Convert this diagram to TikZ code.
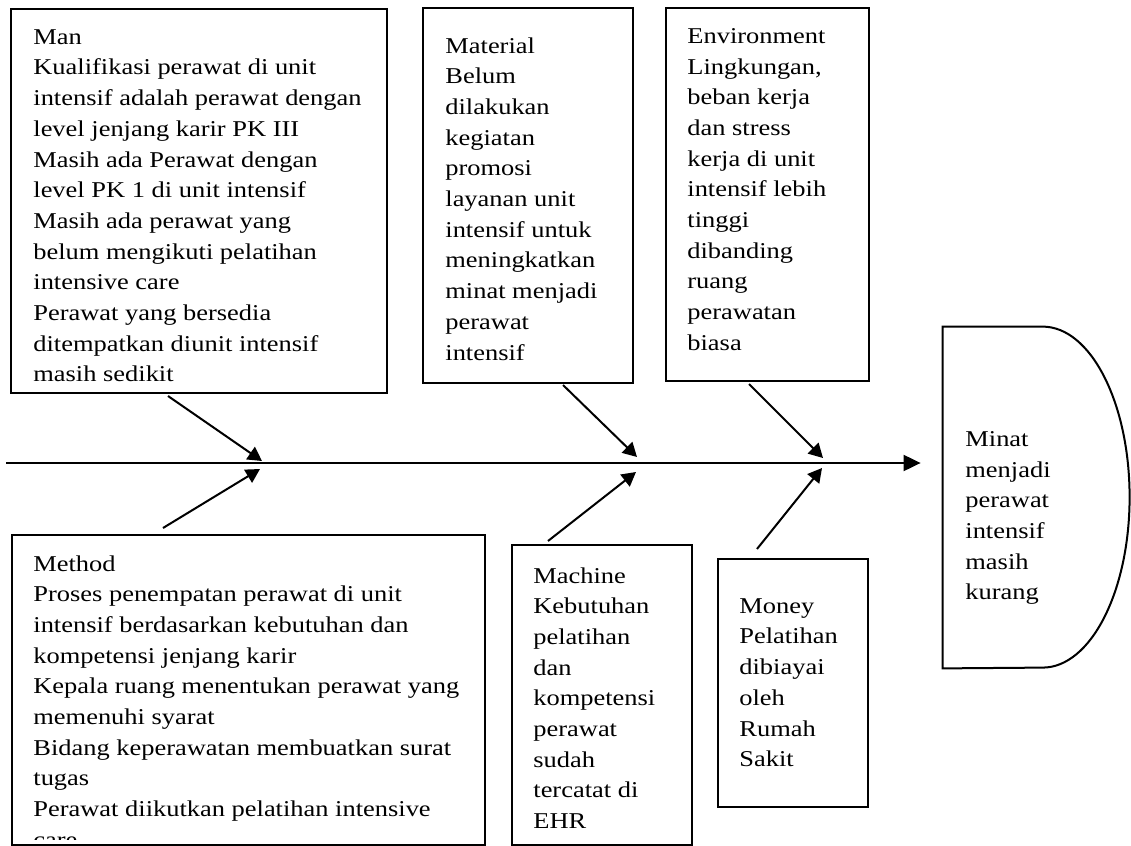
\documentclass[tikz,border=0pt]{standalone}
\usepackage{fontspec}
\setmainfont{Liberation Serif}[FakeStretch=1.17]
\usetikzlibrary{arrows.meta,fit,calc}

\begin{document}
\begin{tikzpicture}
	[
		x=0.5pt, y=-0.5pt,
		box/.style = {draw, line width=1pt, inner sep=0pt},
		txt/.style = {anchor=north west, align=left, inner sep=0pt, font={\fontsize{11.3pt}{15.35pt}\selectfont}},
		bone/.style = {line width=1pt, -{Triangle[length=7pt,width=7.5pt]}},
		spine/.style = {line width=1pt, -{Triangle[length=8.5pt,width=8pt]}, shorten >=11pt},
	]

  \useasboundingbox (0,0) rectangle (1131,846);

  \node[box, fit={(11,9) (387,393)}] (man) {};
  \node[box, fit={(423,8) (633,383)}] (material) {};
  \node[box, fit={(666,8) (869,381)}] (environment) {};
  \node[box, fit={(12,535) (485,845)}] (method) {};
  \node[box, fit={(512,545) (692,845)}] (machine) {};
  \node[box, fit={(718,559) (868,807)}] (money) {};
  \node[inner sep=0pt, fit={(943,327) (1130,668)}] (effect) {};

  \draw[line width=1pt] (effect.north west) -- ++(100,0)
  	arc[start angle=90, end angle=-90, x radius=43.5pt, y radius=85.25pt]
  	-- (effect.south west) -- cycle;

  \node[txt] (mantxt) at (33,29) {Man\\
  	Kualifikasi perawat di unit\\
  	intensif adalah perawat dengan\\
  	level jenjang karir PK III\\
  	Masih ada Perawat dengan\\
  	level PK 1 di unit intensif\\
  	Masih ada perawat yang\\
  	belum mengikuti pelatihan\\
  	intensive care\\
  	Perawat yang bersedia\\
  	ditempatkan diunit intensif\\
  	masih sedikit};
  \node[txt] (materialtxt) at (445,37) {Material\\ Belum\\ dilakukan\\ kegiatan\\ promosi\\
  	layanan unit\\ intensif untuk\\ meningkatkan\\ minat menjadi\\ perawat\\ intensif};
  \node[txt] (environmenttxt) at (687,28) {Environment\\ Lingkungan,\\ beban kerja\\ dan stress\\
  	kerja di unit\\ intensif lebih\\ tinggi\\ dibanding\\ ruang\\ perawatan\\ biasa};
  \begin{scope}
  	\clip (method.north west) rectangle ($(method.south east)+(0,-7)$);
  	\node[txt] (methodtxt) at (33,555) {Method\\
  		Proses penempatan perawat di unit\\
  		intensif berdasarkan kebutuhan dan\\
  		kompetensi jenjang karir\\
  		Kepala ruang menentukan perawat yang\\
  		memenuhi syarat\\
  		Bidang keperawatan membuatkan surat\\
  		tugas\\
  		Perawat diikutkan pelatihan intensive\\
  		care};
  \end{scope}
  \node[txt] (machinetxt) at (533,567) {Machine\\ Kebutuhan\\ pelatihan\\ dan\\ kompetensi\\
  	perawat\\ sudah\\ tercatat di\\ EHR};
  \node[txt] (moneytxt) at (739,598) {Money\\ Pelatihan\\ dibiayai\\ oleh\\ Rumah\\ Sakit};
  \node[txt] (effecttxt) at (965,431) {Minat\\ menjadi\\ perawat\\ intensif\\ masih\\ kurang};

  \coordinate (tail) at (6,463);
  \coordinate (h1) at (262,461);
  \coordinate (h2) at (260,469);
  \coordinate (h3) at (637,457);
  \coordinate (h4) at (636,472);
  \coordinate (h5) at (823,458);
  \coordinate (h6) at (822,468);

  \draw[spine] (tail) -- (tail -| effect.west);
  \draw[bone] ($(man.south)+(-31,2)$) -- (h1);
  \draw[bone] ($(method.north)+(-85.5,-6)$) -- (h2);
  \draw[bone] ($(material.south)+(35,1)$) -- (h3);
  \draw[bone] ($(machine.north)+(-54,-3)$) -- (h4);
  \draw[bone] ($(environment.south)+(-18.5,2)$) -- (h5);
  \draw[bone] ($(money.north)+(-36,-9)$) -- (h6);

\end{tikzpicture}
\end{document}
